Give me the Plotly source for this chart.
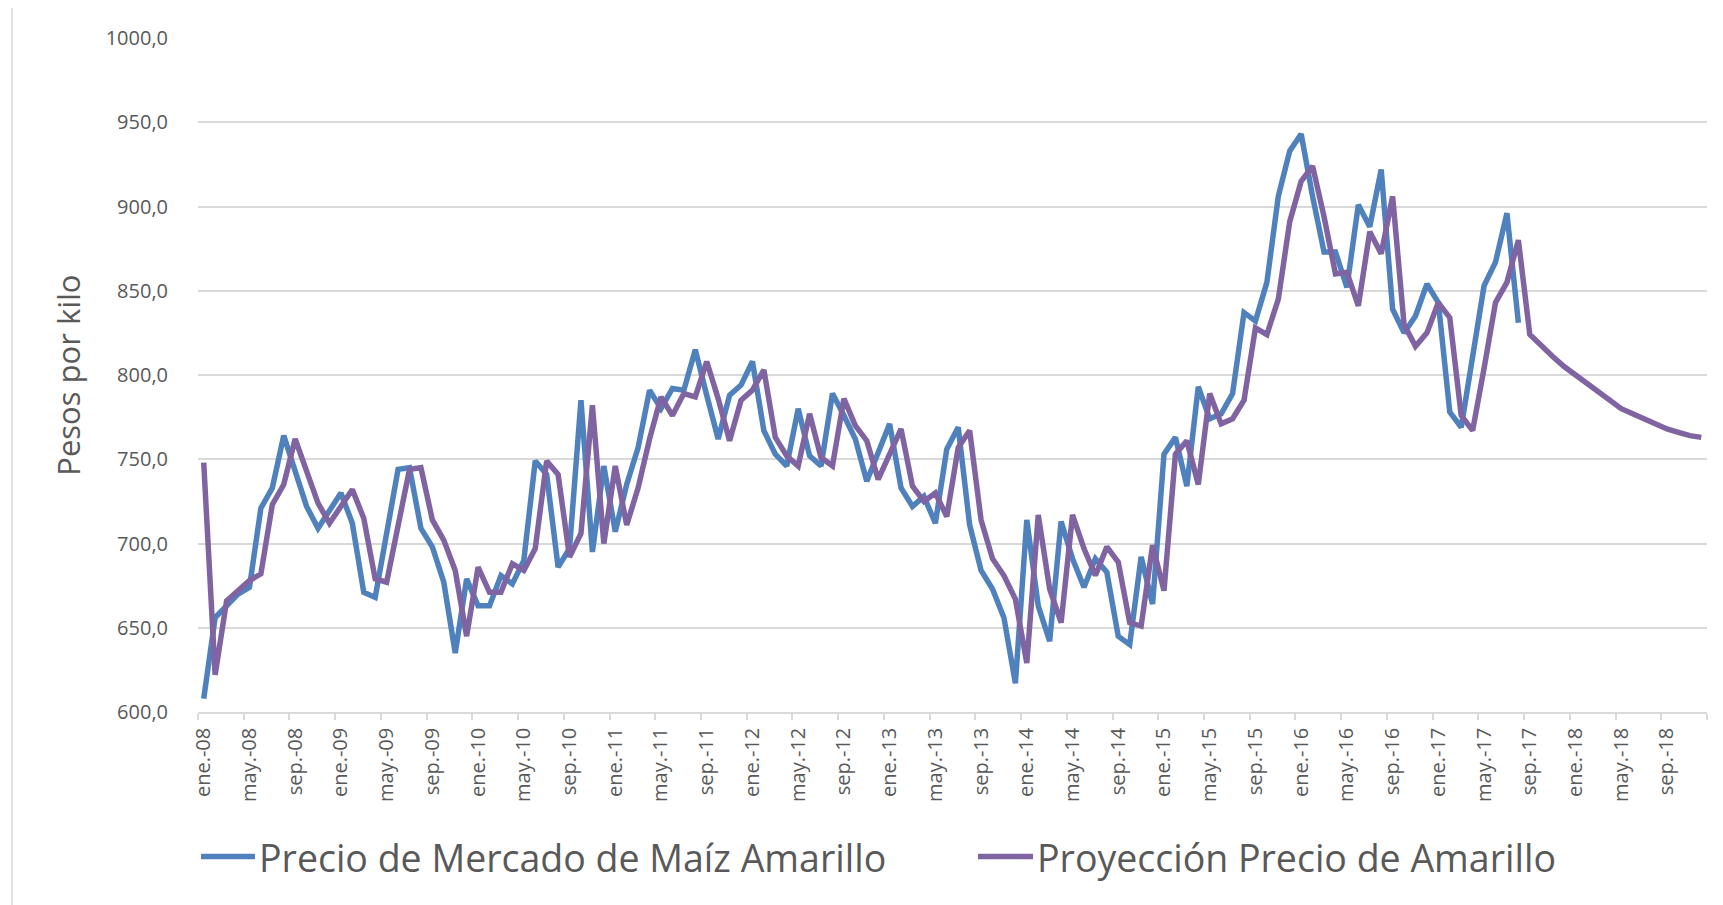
import plotly.graph_objects as go

# Etiquetas de meses (eje de categorías, ene-08 a dic-18)
meses = ['ene.', 'feb.', 'mar.', 'abr.', 'may.', 'jun.',
         'jul.', 'ago.', 'sep.', 'oct.', 'nov.', 'dic.']
anios = ['08', '09', '10', '11', '12', '13', '14', '15', '16', '17', '18']
categorias = [m + '-' + a for a in anios for m in meses]

# Precio de mercado (ene-08 a ago-17)
precio_mercado = [
    608, 656, 663, 670, 674, 721, 733, 764, 743, 722, 709, 719,
    730, 712, 671, 668, 706, 744, 745, 709, 698, 677, 635, 679,
    663, 663, 681, 676, 690, 749, 741, 686, 697, 785, 695, 746,
    707, 735, 757, 791, 780, 792, 791, 815, 788, 762, 788, 794,
    808, 767, 753, 746, 780, 752, 746, 789, 776, 762, 737, 754,
    771, 733, 722, 728, 712, 756, 769, 711, 684, 673, 656, 617,
    714, 663, 642, 713, 691, 674, 691, 683, 645, 640, 692, 664,
    753, 763, 734, 793, 774, 777, 789, 837, 832, 855, 906, 933,
    943, 906, 873, 873, 852, 901, 888, 922, 839, 825, 835, 854,
    843, 778, 769, 811, 853, 867, 896, 831,
]

# Proyección (ene-08 a dic-18)
proyeccion = [
    748, 622, 666, 672, 678, 682, 723, 735, 762, 743, 724, 712,
    722, 732, 715, 679, 677, 710, 744, 745, 714, 702, 684, 645,
    686, 671, 671, 688, 684, 697, 749, 741, 692, 706, 782, 700,
    746, 711, 733, 762, 787, 776, 789, 787, 808, 786, 761, 785,
    791, 803, 763, 752, 746, 777, 751, 746, 786, 770, 761, 738,
    753, 768, 734, 725, 730, 716, 757, 767, 714, 691, 681, 667,
    629, 717, 673, 653, 717, 697, 681, 698, 689, 653, 651, 699,
    672, 753, 761, 735, 789, 771, 774, 785, 828, 824, 845, 891,
    915, 924, 894, 860, 861, 841, 885, 872, 906, 830, 817, 825,
    843, 834, 776, 767, 804, 843, 855, 880, 824, 817, 811, 805,
    800, 794, 789, 784, 780, 777, 774, 771, 768, 766, 764, 763,
]

nombres = ['Precio de Mercado de Maíz Amarillo', 'Proyección Precio de Amarillo']
colores = ['#4f81bd', '#8064a2']

gris = '#595959'
fuente = 'Open Sans, sans-serif'

# área de trazado (px) -- la página añade 8 px de margen al body
PL, PW, PT, PH = 198, 1509, 38, 674.5


def px_x(x):
    return (x - PL) / PW


def px_y(y):
    return (PT + PH - y) / PH


fig = go.Figure()

fig.add_trace(go.Scatter(
    x=categorias[:len(precio_mercado)],
    y=precio_mercado,
    mode='lines',
    name=nombres[0],
    line=dict(color=colores[0], width=5.5),
))

fig.add_trace(go.Scatter(
    x=categorias,
    y=proyeccion,
    mode='lines',
    name=nombres[1],
    line=dict(color=colores[1], width=5.5),
))

fig.update_layout(
    width=1715,
    height=897,
    margin=dict(l=PL - 8, r=1715 - (PL - 8) - PW, t=PT - 8, b=897 - (PT - 8) - PH),
    paper_bgcolor='white',
    plot_bgcolor='white',
    separators=',.',
    font=dict(family=fuente, color=gris),
    showlegend=False,
)

fig.update_xaxes(
    type='category',
    categoryorder='array',
    categoryarray=categorias,
    range=[-0.5, len(categorias) - 0.5],
    tickmode='linear',
    tick0=0,
    dtick=4,
    tickson='boundaries',
    ticks='outside',
    ticklen=6,
    tickwidth=1.5,
    tickcolor='#d9d9d9',
    tickangle=-90,
    ticklabelstandoff=6,
    tickfont=dict(size=20, color=gris),
    showgrid=False,
    showline=True,
    linecolor='#d9d9d9',
    linewidth=1.5,
    zeroline=False,
)

fig.update_yaxes(
    range=[600, 1000],
    dtick=50,
    tickformat='.1f',
    tickfont=dict(size=20, color=gris),
    ticklabelstandoff=29,
    showgrid=True,
    gridcolor='#d9d9d9',
    gridwidth=1.5,
    showline=False,
    zeroline=False,
)

# Título del eje Y
fig.add_annotation(
    text='Pesos por kilo',
    xref='paper', yref='paper',
    x=px_x(68), y=px_y(376),
    xanchor='center', yanchor='middle',
    textangle=-90,
    showarrow=False,
    font=dict(size=31, color=gris, family=fuente),
)

# Leyenda (muestra de línea + texto)
leyenda_x = [(201, 255), (978, 1033)]
for nombre, color, (x0, x1) in zip(nombres, colores, leyenda_x):
    fig.add_shape(
        type='line',
        xref='paper', yref='paper',
        x0=px_x(x0), x1=px_x(x1),
        y0=px_y(857), y1=px_y(857),
        line=dict(color=color, width=5.5),
    )
    fig.add_annotation(
        text=nombre,
        xref='paper', yref='paper',
        x=px_x(x1 + 2), y=px_y(858),
        xanchor='left', yanchor='middle',
        showarrow=False,
        font=dict(size=37.5, color=gris, family=fuente),
    )

# Borde del área del gráfico
fig.add_shape(
    type='rect',
    xref='paper', yref='paper',
    x0=px_x(12), x1=px_x(1721),
    y0=px_y(920), y1=px_y(6),
    line=dict(color='#d9d9d9', width=1.5),
    layer='below',
)

fig.write_html('out.html')
